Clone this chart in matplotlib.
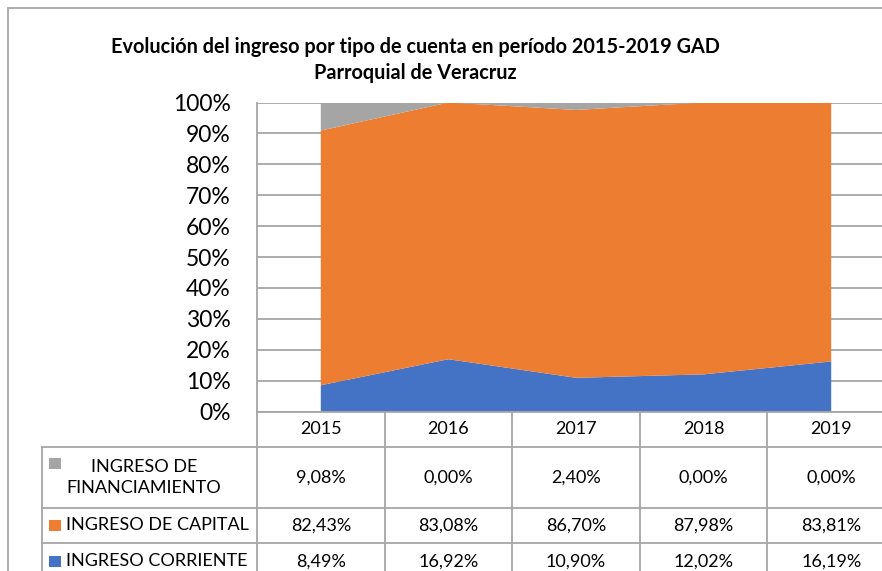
import matplotlib.pyplot as plt
from matplotlib.patches import Rectangle
from matplotlib.transforms import Affine2D, blended_transform_factory

plt.rcParams['font.family'] = ['Lato', 'DejaVu Sans']

years = ['2015', '2016', '2017', '2018', '2019']
corriente = [8.49, 16.92, 10.90, 12.02, 16.19]
capital = [82.43, 83.08, 86.70, 87.98, 83.81]
financiamiento = [9.08, 0.00, 2.40, 0.00, 0.00]
row_labels = ['INGRESO DE\nFINANCIAMIENTO', 'INGRESO DE CAPITAL', 'INGRESO CORRIENTE']
y_ticks = list(range(0, 101, 10))
title = 'Evolución del ingreso por tipo de cuenta en período 2015-2019 GAD\nParroquial de Veracruz'

blue, orange, grey = '#4472C4', '#ED7D31', '#A5A5A5'
line_c = '#A6A6A6'

W, H = 882, 571
fig = plt.figure(figsize=(W / 100, H / 100), dpi=100)

# plot area in pixels: left 257, 0% at 411.5, 100% at 102.5, one column = 127.6 px
col_w = 127.6
ax = fig.add_axes([257 / W, 1 - 411.5 / H, col_w * len(years) / W, 309 / H])

ax.stackplot(range(len(years)), corriente, capital, financiamiento,
             colors=[blue, orange, grey], linewidth=0)
ax.set_xlim(-0.5, len(years) - 0.5)
ax.set_ylim(0, 100)
ax.set_xticks([])
ax.set_yticks(y_ticks)
ax.set_yticklabels([f'{t}%' for t in y_ticks])
ax.tick_params(axis='y', length=0, pad=19, labelsize=16.5, colors='black')
ax.yaxis.grid(True, color=line_c, linewidth=1.3)
ax.set_axisbelow(True)
for s in ['top', 'right']:
    ax.spines[s].set_visible(False)
for s in ['left', 'bottom']:
    ax.spines[s].set_color(line_c)
    ax.spines[s].set_linewidth(1.3)

# data table below the plot: x in data units, y in pixels from the top
pix = Affine2D().scale(1, -1).translate(0, H)
tr = blended_transform_factory(ax.transData, pix)


def px_to_x(px):
    return -0.5 + (px - 257) / col_w


lab_left = px_to_x(42)
right = len(years) - 0.5
rows_y = [447, 508, 543, 580]

for yy in rows_y[:-1]:
    ax.plot([lab_left, right], [yy, yy], color=line_c, lw=1.3, transform=tr, clip_on=False)
for i in range(len(years) + 1):
    ax.plot([i - 0.5, i - 0.5], [411.5, rows_y[-1]], color=line_c, lw=1.3, transform=tr, clip_on=False)
ax.plot([lab_left, lab_left], [rows_y[0], rows_y[-1]], color=line_c, lw=1.3, transform=tr, clip_on=False)

for i, yr in enumerate(years):
    ax.text(i, 429.5, yr, ha='center', va='center', fontsize=13, transform=tr)

table_rows = [financiamiento, capital, corriente]
colors = [grey, orange, blue]
for r, (vals, col, lab) in enumerate(zip(table_rows, colors, row_labels)):
    yc = (rows_y[r] + rows_y[r + 1]) / 2
    for i, v in enumerate(vals):
        ax.text(i, yc, f'{v:.2f}%'.replace('.', ','), ha='center', va='center',
                fontsize=13, transform=tr)
    sq_top = yc - 6 if r else 458
    ax.add_patch(Rectangle((px_to_x(49), sq_top), 12 / col_w, 11, facecolor=col,
                           edgecolor='none', transform=tr, clip_on=False))
    if '\n' in lab:
        ax.text(px_to_x(144), yc, lab, ha='center', va='center', fontsize=13,
                linespacing=1.35, transform=tr)
    else:
        ax.text(px_to_x(66), yc, lab, ha='left', va='center', fontsize=13, transform=tr)

# chart border
fig.add_artist(Rectangle((8 / W, -0.1), 1.2, 1 - 8 / H + 0.1, transform=fig.transFigure,
                         facecolor='none', edgecolor=line_c, lw=1.3))

fig.text(415 / W, 1 - 60 / H, title, ha='center', va='center', fontsize=14.3,
         fontweight='bold', linespacing=1.35)

fig.savefig('out.png', dpi=100)
